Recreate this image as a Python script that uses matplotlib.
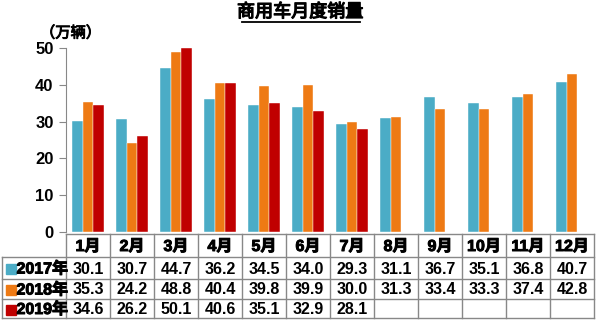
import matplotlib
matplotlib.use("Agg")
import matplotlib.pyplot as plt
import matplotlib.transforms as mtransforms
import matplotlib.patheffects as pe
import numpy as np

plt.rcParams['font.family'] = ['Liberation Sans', 'Noto Sans CJK SC']

months = ['1月', '2月', '3月', '4月', '5月', '6月', '7月', '8月', '9月', '10月', '11月', '12月']
years = ['2017年', '2018年', '2019年']
sales_2017 = [30.1, 30.7, 44.7, 36.2, 34.5, 34.0, 29.3, 31.1, 36.7, 35.1, 36.8, 40.7]
sales_2018 = [35.3, 24.2, 48.8, 40.4, 39.8, 39.9, 30.0, 31.3, 33.4, 33.3, 37.4, 42.8]
sales_2019 = [34.6, 26.2, 50.1, 40.6, 35.1, 32.9, 28.1]
colors = ['#4BACC6', '#EE7A14', '#C00000']

W, H = 600, 321
fig = plt.figure(figsize=(6.0, 3.21), dpi=100)
ax = fig.add_axes([66 / W, (H - 232) / H, 528 / W, 184 / H])

# fake bold for the CJK glyphs (only regular weight installed)
bold = [pe.withStroke(linewidth=0.7, foreground='black')]

x = np.arange(len(months))
bw = 0.243
series = [sales_2017, sales_2018, sales_2019]
for i, vals in enumerate(series):
    xi = x[:len(vals)] + (i - 1) * bw
    ax.bar(xi, vals, width=bw, color=colors[i], edgecolor='white', linewidth=0.3, zorder=2)

ax.set_xlim(-0.5, 11.5)
ax.set_ylim(0, 50)
ax.set_yticks([0, 10, 20, 30, 40, 50])
ax.set_xticks([])
for s in ['top', 'right', 'bottom']:
    ax.spines[s].set_visible(False)
ax.spines['left'].set_color('#888888')
ax.tick_params(axis='y', length=5, color='#888888', labelsize=12, pad=4)
for lab in ax.get_yticklabels():
    lab.set_fontweight('bold')

fig.text(0.5, 1 - 12 / H, '商用车月度销量', ha='center', va='center', fontsize=13,
         family=['Noto Sans CJK SC'], path_effects=[pe.withStroke(linewidth=0.9, foreground='black')])
fig.add_artist(plt.Line2D([242 / W, 360 / W], [1 - 21.5 / H, 1 - 21.5 / H], color='black', lw=1.3))
fig.text(40 / W, 1 - 33 / H, '（万辆）', ha='left', va='center', fontsize=11,
         family=['Noto Sans CJK SC'], path_effects=bold)

# table: x in data units of the bar axes, y in pixels from top
px = mtransforms.Affine2D().scale(1 / W, -1 / H).translate(0, 1) + fig.transFigure
tr = mtransforms.blended_transform_factory(ax.transData, px)
rows_y = [234, 257, 279, 299, 318]
left = -0.5 - 64 / 44.0
lc = '#888888'
lw = 1.0

def hline(x0, x1, y):
    fig.add_artist(plt.Line2D([x0, x1], [y, y], transform=tr, color=lc, lw=lw))

def vline(xx, y0, y1):
    fig.add_artist(plt.Line2D([xx, xx], [y0, y1], transform=tr, color=lc, lw=lw))

hline(-0.5, 11.5, rows_y[0])
for y in rows_y[1:]:
    hline(left, 11.5, y)
vline(left, rows_y[1], rows_y[-1])
for k in range(13):
    vline(k - 0.5, rows_y[0], rows_y[-1])

tkw = dict(transform=tr, ha='center', va='center', fontsize=11.5, fontweight='bold')
for k, m in enumerate(months):
    fig.text(k, (rows_y[0] + rows_y[1]) / 2 + 1, m, path_effects=bold, **tkw)
for r, vals in enumerate(series):
    yc = (rows_y[r + 1] + rows_y[r + 2]) / 2 + 1
    for k, v in enumerate(vals):
        fig.text(k, yc, '%.1f' % v, **tkw)
    fig.add_artist(plt.Line2D([left + 0.2], [yc], transform=tr, marker='s', markersize=6.5,
                              color=colors[r], linestyle='none'))
    fig.text(left + 0.33, yc, years[r], transform=tr, ha='left', va='center', fontsize=11.5,
             fontweight='bold', path_effects=bold)

fig.savefig('out.png', dpi=100)
